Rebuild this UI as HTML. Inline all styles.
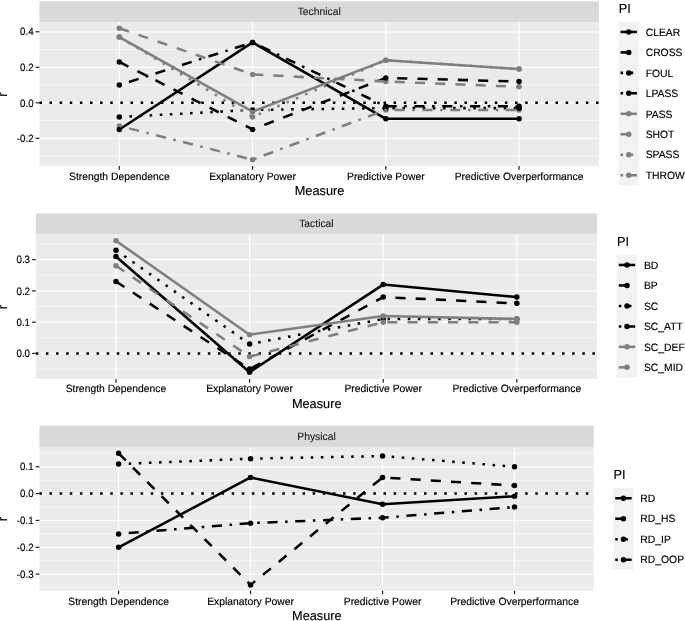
<!DOCTYPE html>
<html lang="en">
<head>
<meta charset="utf-8">
<title>Performance indicator measures</title>
<style>
html,body{margin:0;padding:0;background:#fff;}
svg{display:block;will-change:transform;text-rendering:geometricPrecision;}
text{stroke:#000;stroke-width:0.15px;}
</style>
</head>
<body>
<svg width="685" height="621" viewBox="0 0 685 621" font-family='"Liberation Sans", sans-serif'>
<rect x="0" y="0" width="685" height="621" fill="#ffffff"/>
<rect x="39.40" y="1.30" width="559.60" height="20.80" fill="#d9d9d9"/>
<text transform="translate(319.20,15.05) scale(0.9764,1)" font-size="10.60" text-anchor="middle" fill="#1a1a1a" style="stroke:#1a1a1a;stroke-width:0.1px">Technical</text>
<rect x="39.40" y="22.10" width="559.60" height="143.95" fill="#ebebeb"/>
<line x1="39.40" x2="599.00" y1="156.08" y2="156.08" stroke="#fff" stroke-width="0.63"/>
<line x1="39.40" x2="599.00" y1="120.56" y2="120.56" stroke="#fff" stroke-width="0.63"/>
<line x1="39.40" x2="599.00" y1="85.04" y2="85.04" stroke="#fff" stroke-width="0.63"/>
<line x1="39.40" x2="599.00" y1="49.52" y2="49.52" stroke="#fff" stroke-width="0.63"/>
<line x1="39.40" x2="599.00" y1="138.32" y2="138.32" stroke="#fff" stroke-width="1.25"/>
<line x1="39.40" x2="599.00" y1="102.80" y2="102.80" stroke="#fff" stroke-width="1.25"/>
<line x1="39.40" x2="599.00" y1="67.28" y2="67.28" stroke="#fff" stroke-width="1.25"/>
<line x1="39.40" x2="599.00" y1="31.76" y2="31.76" stroke="#fff" stroke-width="1.25"/>
<line x1="119.34" x2="119.34" y1="22.10" y2="166.05" stroke="#fff" stroke-width="1.25"/>
<line x1="252.58" x2="252.58" y1="22.10" y2="166.05" stroke="#fff" stroke-width="1.25"/>
<line x1="385.82" x2="385.82" y1="22.10" y2="166.05" stroke="#fff" stroke-width="1.25"/>
<line x1="519.06" x2="519.06" y1="22.10" y2="166.05" stroke="#fff" stroke-width="1.25"/>
<line x1="39.40" x2="599.00" y1="102.80" y2="102.80" stroke="#000" stroke-width="2.53" stroke-dasharray="2.53,7.59"/>
<circle cx="119.34" cy="37.09" r="2.75" fill="#7f7f7f"/>
<circle cx="252.58" cy="111.68" r="2.75" fill="#7f7f7f"/>
<circle cx="385.82" cy="60.18" r="2.75" fill="#7f7f7f"/>
<circle cx="519.06" cy="69.06" r="2.75" fill="#7f7f7f"/>
<circle cx="119.34" cy="28.21" r="2.75" fill="#7f7f7f"/>
<circle cx="252.58" cy="74.38" r="2.75" fill="#7f7f7f"/>
<circle cx="385.82" cy="81.49" r="2.75" fill="#7f7f7f"/>
<circle cx="519.06" cy="86.82" r="2.75" fill="#7f7f7f"/>
<circle cx="119.34" cy="37.09" r="2.75" fill="#7f7f7f"/>
<circle cx="252.58" cy="117.01" r="2.75" fill="#7f7f7f"/>
<circle cx="385.82" cy="60.18" r="2.75" fill="#7f7f7f"/>
<circle cx="519.06" cy="69.06" r="2.75" fill="#7f7f7f"/>
<circle cx="119.34" cy="125.89" r="2.75" fill="#7f7f7f"/>
<circle cx="252.58" cy="159.63" r="2.75" fill="#7f7f7f"/>
<circle cx="385.82" cy="109.90" r="2.75" fill="#7f7f7f"/>
<circle cx="519.06" cy="109.90" r="2.75" fill="#7f7f7f"/>
<circle cx="119.34" cy="129.44" r="2.75" fill="#000000"/>
<circle cx="252.58" cy="42.42" r="2.75" fill="#000000"/>
<circle cx="385.82" cy="118.78" r="2.75" fill="#000000"/>
<circle cx="519.06" cy="118.78" r="2.75" fill="#000000"/>
<circle cx="119.34" cy="61.95" r="2.75" fill="#000000"/>
<circle cx="252.58" cy="129.44" r="2.75" fill="#000000"/>
<circle cx="385.82" cy="77.94" r="2.75" fill="#000000"/>
<circle cx="519.06" cy="81.49" r="2.75" fill="#000000"/>
<circle cx="119.34" cy="117.01" r="2.75" fill="#000000"/>
<circle cx="252.58" cy="109.90" r="2.75" fill="#000000"/>
<circle cx="385.82" cy="108.13" r="2.75" fill="#000000"/>
<circle cx="519.06" cy="108.13" r="2.75" fill="#000000"/>
<circle cx="119.34" cy="85.04" r="2.75" fill="#000000"/>
<circle cx="252.58" cy="42.42" r="2.75" fill="#000000"/>
<circle cx="385.82" cy="106.35" r="2.75" fill="#000000"/>
<circle cx="519.06" cy="106.35" r="2.75" fill="#000000"/>
<polyline points="119.34,129.44 252.58,42.42 385.82,118.78 519.06,118.78" fill="none" stroke="#000000" stroke-width="2.53" stroke-linejoin="round"/>
<polyline points="119.34,61.95 252.58,129.44 385.82,77.94 519.06,81.49" fill="none" stroke="#000000" stroke-width="2.53" stroke-linejoin="round" stroke-dasharray="10.12,10.12"/>
<polyline points="119.34,117.01 252.58,109.90 385.82,108.13 519.06,108.13" fill="none" stroke="#000000" stroke-width="2.53" stroke-linejoin="round" stroke-dasharray="2.53,7.59"/>
<polyline points="119.34,85.04 252.58,42.42 385.82,106.35 519.06,106.35" fill="none" stroke="#000000" stroke-width="2.53" stroke-linejoin="round" stroke-dasharray="2.53,7.59,10.12,7.59"/>
<polyline points="119.34,37.09 252.58,111.68 385.82,60.18 519.06,69.06" fill="none" stroke="#7f7f7f" stroke-width="2.53" stroke-linejoin="round"/>
<polyline points="119.34,28.21 252.58,74.38 385.82,81.49 519.06,86.82" fill="none" stroke="#7f7f7f" stroke-width="2.53" stroke-linejoin="round" stroke-dasharray="10.12,10.12"/>
<polyline points="119.34,37.09 252.58,117.01 385.82,60.18 519.06,69.06" fill="none" stroke="#7f7f7f" stroke-width="2.53" stroke-linejoin="round" stroke-dasharray="2.53,7.59"/>
<polyline points="119.34,125.89 252.58,159.63 385.82,109.90 519.06,109.90" fill="none" stroke="#7f7f7f" stroke-width="2.53" stroke-linejoin="round" stroke-dasharray="2.53,7.59,10.12,7.59"/>
<line x1="35.70" x2="39.40" y1="138.32" y2="138.32" stroke="#262626" stroke-width="1.25"/>
<text transform="translate(33.60,142.02) scale(0.9178,1)" font-size="10.60" text-anchor="end" fill="#000">-0.2</text>
<line x1="35.70" x2="39.40" y1="102.80" y2="102.80" stroke="#262626" stroke-width="1.25"/>
<text transform="translate(33.60,106.50) scale(0.9178,1)" font-size="10.60" text-anchor="end" fill="#000">0.0</text>
<line x1="35.70" x2="39.40" y1="67.28" y2="67.28" stroke="#262626" stroke-width="1.25"/>
<text transform="translate(33.60,70.98) scale(0.9178,1)" font-size="10.60" text-anchor="end" fill="#000">0.2</text>
<line x1="35.70" x2="39.40" y1="31.76" y2="31.76" stroke="#262626" stroke-width="1.25"/>
<text transform="translate(33.60,35.46) scale(0.9178,1)" font-size="10.60" text-anchor="end" fill="#000">0.4</text>
<line x1="119.34" x2="119.34" y1="166.05" y2="169.75" stroke="#262626" stroke-width="1.25"/>
<text transform="translate(119.34,179.85) scale(0.9764,1)" font-size="10.60" text-anchor="middle" fill="#000">Strength Dependence</text>
<line x1="252.58" x2="252.58" y1="166.05" y2="169.75" stroke="#262626" stroke-width="1.25"/>
<text transform="translate(252.58,179.85) scale(0.9764,1)" font-size="10.60" text-anchor="middle" fill="#000">Explanatory Power</text>
<line x1="385.82" x2="385.82" y1="166.05" y2="169.75" stroke="#262626" stroke-width="1.25"/>
<text transform="translate(385.82,179.85) scale(0.9764,1)" font-size="10.60" text-anchor="middle" fill="#000">Predictive Power</text>
<line x1="519.06" x2="519.06" y1="166.05" y2="169.75" stroke="#262626" stroke-width="1.25"/>
<text transform="translate(519.06,179.85) scale(0.9764,1)" font-size="10.60" text-anchor="middle" fill="#000">Predictive Overperformance</text>
<text transform="translate(319.50,195.45) scale(0.9808,1)" font-size="13.00" text-anchor="middle" fill="#000">Measure</text>
<text transform="translate(6.90,94.48) rotate(-90)" font-size="13.30" text-anchor="middle" fill="#000">r</text>
<text transform="translate(618.70,12.60) scale(0.9808,1)" font-size="13.00" fill="#000">PI</text>
<rect x="618.50" y="21.70" width="20.47" height="20.52" fill="#f2f2f2"/>
<line x1="620.55" x2="636.92" y1="31.93" y2="31.93" stroke="#000000" stroke-width="2.53"/>
<circle cx="628.74" cy="31.93" r="2.75" fill="#000000"/>
<text transform="translate(645.67,35.63) scale(0.9764,1)" font-size="10.60" fill="#000">CLEAR</text>
<rect x="618.50" y="42.17" width="20.47" height="20.52" fill="#f2f2f2"/>
<line x1="620.55" x2="636.92" y1="52.41" y2="52.41" stroke="#000000" stroke-width="2.53" stroke-dasharray="10.12,10.12"/>
<circle cx="628.74" cy="52.41" r="2.75" fill="#000000"/>
<text transform="translate(645.67,56.11) scale(0.9764,1)" font-size="10.60" fill="#000">CROSS</text>
<rect x="618.50" y="62.64" width="20.47" height="20.52" fill="#f2f2f2"/>
<line x1="620.55" x2="636.92" y1="72.88" y2="72.88" stroke="#000000" stroke-width="2.53" stroke-dasharray="2.53,7.59"/>
<circle cx="628.74" cy="72.88" r="2.75" fill="#000000"/>
<text transform="translate(645.67,76.58) scale(0.9764,1)" font-size="10.60" fill="#000">FOUL</text>
<rect x="618.50" y="83.11" width="20.47" height="20.52" fill="#f2f2f2"/>
<line x1="620.55" x2="636.92" y1="93.34" y2="93.34" stroke="#000000" stroke-width="2.53" stroke-dasharray="2.53,7.59,10.12,7.59"/>
<circle cx="628.74" cy="93.34" r="2.75" fill="#000000"/>
<text transform="translate(645.67,97.05) scale(0.9764,1)" font-size="10.60" fill="#000">LPASS</text>
<rect x="618.50" y="103.58" width="20.47" height="20.52" fill="#f2f2f2"/>
<line x1="620.55" x2="636.92" y1="113.81" y2="113.81" stroke="#7f7f7f" stroke-width="2.53"/>
<circle cx="628.74" cy="113.81" r="2.75" fill="#7f7f7f"/>
<text transform="translate(645.67,117.52) scale(0.9764,1)" font-size="10.60" fill="#000">PASS</text>
<rect x="618.50" y="124.05" width="20.47" height="20.52" fill="#f2f2f2"/>
<line x1="620.55" x2="636.92" y1="134.28" y2="134.28" stroke="#7f7f7f" stroke-width="2.53" stroke-dasharray="10.12,10.12"/>
<circle cx="628.74" cy="134.28" r="2.75" fill="#7f7f7f"/>
<text transform="translate(645.67,137.98) scale(0.9764,1)" font-size="10.60" fill="#000">SHOT</text>
<rect x="618.50" y="144.52" width="20.47" height="20.52" fill="#f2f2f2"/>
<line x1="620.55" x2="636.92" y1="154.75" y2="154.75" stroke="#7f7f7f" stroke-width="2.53" stroke-dasharray="2.53,7.59"/>
<circle cx="628.74" cy="154.75" r="2.75" fill="#7f7f7f"/>
<text transform="translate(645.67,158.45) scale(0.9764,1)" font-size="10.60" fill="#000">SPASS</text>
<rect x="618.50" y="164.99" width="20.47" height="20.52" fill="#f2f2f2"/>
<line x1="620.55" x2="636.92" y1="175.22" y2="175.22" stroke="#7f7f7f" stroke-width="2.53" stroke-dasharray="2.53,7.59,10.12,7.59"/>
<circle cx="628.74" cy="175.22" r="2.75" fill="#7f7f7f"/>
<text transform="translate(645.67,178.92) scale(0.9764,1)" font-size="10.60" fill="#000">THROW</text>
<rect x="35.80" y="213.40" width="561.20" height="20.90" fill="#d9d9d9"/>
<text transform="translate(316.40,227.20) scale(0.9764,1)" font-size="10.60" text-anchor="middle" fill="#1a1a1a" style="stroke:#1a1a1a;stroke-width:0.1px">Tactical</text>
<rect x="35.80" y="234.30" width="561.20" height="144.70" fill="#ebebeb"/>
<line x1="35.80" x2="597.00" y1="369.10" y2="369.10" stroke="#fff" stroke-width="0.63"/>
<line x1="35.80" x2="597.00" y1="337.80" y2="337.80" stroke="#fff" stroke-width="0.63"/>
<line x1="35.80" x2="597.00" y1="306.50" y2="306.50" stroke="#fff" stroke-width="0.63"/>
<line x1="35.80" x2="597.00" y1="275.20" y2="275.20" stroke="#fff" stroke-width="0.63"/>
<line x1="35.80" x2="597.00" y1="243.90" y2="243.90" stroke="#fff" stroke-width="0.63"/>
<line x1="35.80" x2="597.00" y1="353.45" y2="353.45" stroke="#fff" stroke-width="1.25"/>
<line x1="35.80" x2="597.00" y1="322.15" y2="322.15" stroke="#fff" stroke-width="1.25"/>
<line x1="35.80" x2="597.00" y1="290.85" y2="290.85" stroke="#fff" stroke-width="1.25"/>
<line x1="35.80" x2="597.00" y1="259.55" y2="259.55" stroke="#fff" stroke-width="1.25"/>
<line x1="115.97" x2="115.97" y1="234.30" y2="379.00" stroke="#fff" stroke-width="1.25"/>
<line x1="249.59" x2="249.59" y1="234.30" y2="379.00" stroke="#fff" stroke-width="1.25"/>
<line x1="383.21" x2="383.21" y1="234.30" y2="379.00" stroke="#fff" stroke-width="1.25"/>
<line x1="516.83" x2="516.83" y1="234.30" y2="379.00" stroke="#fff" stroke-width="1.25"/>
<line x1="35.80" x2="597.00" y1="353.45" y2="353.45" stroke="#000" stroke-width="2.53" stroke-dasharray="2.53,7.59"/>
<circle cx="115.97" cy="256.42" r="2.75" fill="#000000"/>
<circle cx="249.59" cy="372.23" r="2.75" fill="#000000"/>
<circle cx="383.21" cy="284.59" r="2.75" fill="#000000"/>
<circle cx="516.83" cy="297.11" r="2.75" fill="#000000"/>
<circle cx="115.97" cy="281.46" r="2.75" fill="#000000"/>
<circle cx="249.59" cy="369.10" r="2.75" fill="#000000"/>
<circle cx="383.21" cy="297.11" r="2.75" fill="#000000"/>
<circle cx="516.83" cy="303.37" r="2.75" fill="#000000"/>
<circle cx="115.97" cy="250.16" r="2.75" fill="#000000"/>
<circle cx="249.59" cy="344.06" r="2.75" fill="#000000"/>
<circle cx="383.21" cy="319.02" r="2.75" fill="#000000"/>
<circle cx="516.83" cy="319.02" r="2.75" fill="#000000"/>
<circle cx="115.97" cy="240.77" r="2.75" fill="#7f7f7f"/>
<circle cx="249.59" cy="334.67" r="2.75" fill="#7f7f7f"/>
<circle cx="383.21" cy="315.89" r="2.75" fill="#7f7f7f"/>
<circle cx="516.83" cy="319.02" r="2.75" fill="#7f7f7f"/>
<circle cx="115.97" cy="265.81" r="2.75" fill="#7f7f7f"/>
<circle cx="249.59" cy="356.58" r="2.75" fill="#7f7f7f"/>
<circle cx="383.21" cy="322.15" r="2.75" fill="#7f7f7f"/>
<circle cx="516.83" cy="322.15" r="2.75" fill="#7f7f7f"/>
<polyline points="115.97,256.42 249.59,372.23 383.21,284.59 516.83,297.11" fill="none" stroke="#000000" stroke-width="2.53" stroke-linejoin="round"/>
<polyline points="115.97,281.46 249.59,369.10 383.21,297.11 516.83,303.37" fill="none" stroke="#000000" stroke-width="2.53" stroke-linejoin="round" stroke-dasharray="10.12,10.12"/>
<polyline points="115.97,250.16 249.59,344.06 383.21,319.02 516.83,319.02" fill="none" stroke="#000000" stroke-width="2.53" stroke-linejoin="round" stroke-dasharray="2.53,7.59"/>
<polyline points="115.97,240.77 249.59,334.67 383.21,315.89 516.83,319.02" fill="none" stroke="#7f7f7f" stroke-width="2.53" stroke-linejoin="round"/>
<polyline points="115.97,265.81 249.59,356.58 383.21,322.15 516.83,322.15" fill="none" stroke="#7f7f7f" stroke-width="2.53" stroke-linejoin="round" stroke-dasharray="10.12,10.12"/>
<line x1="32.10" x2="35.80" y1="353.45" y2="353.45" stroke="#262626" stroke-width="1.25"/>
<text transform="translate(30.00,357.15) scale(0.9178,1)" font-size="10.60" text-anchor="end" fill="#000">0.0</text>
<line x1="32.10" x2="35.80" y1="322.15" y2="322.15" stroke="#262626" stroke-width="1.25"/>
<text transform="translate(30.00,325.85) scale(0.9178,1)" font-size="10.60" text-anchor="end" fill="#000">0.1</text>
<line x1="32.10" x2="35.80" y1="290.85" y2="290.85" stroke="#262626" stroke-width="1.25"/>
<text transform="translate(30.00,294.55) scale(0.9178,1)" font-size="10.60" text-anchor="end" fill="#000">0.2</text>
<line x1="32.10" x2="35.80" y1="259.55" y2="259.55" stroke="#262626" stroke-width="1.25"/>
<text transform="translate(30.00,263.25) scale(0.9178,1)" font-size="10.60" text-anchor="end" fill="#000">0.3</text>
<line x1="115.97" x2="115.97" y1="379.00" y2="382.70" stroke="#262626" stroke-width="1.25"/>
<text transform="translate(115.97,392.00) scale(0.9764,1)" font-size="10.60" text-anchor="middle" fill="#000">Strength Dependence</text>
<line x1="249.59" x2="249.59" y1="379.00" y2="382.70" stroke="#262626" stroke-width="1.25"/>
<text transform="translate(249.59,392.00) scale(0.9764,1)" font-size="10.60" text-anchor="middle" fill="#000">Explanatory Power</text>
<line x1="383.21" x2="383.21" y1="379.00" y2="382.70" stroke="#262626" stroke-width="1.25"/>
<text transform="translate(383.21,392.00) scale(0.9764,1)" font-size="10.60" text-anchor="middle" fill="#000">Predictive Power</text>
<line x1="516.83" x2="516.83" y1="379.00" y2="382.70" stroke="#262626" stroke-width="1.25"/>
<text transform="translate(516.83,392.00) scale(0.9764,1)" font-size="10.60" text-anchor="middle" fill="#000">Predictive Overperformance</text>
<text transform="translate(316.70,408.10) scale(0.9808,1)" font-size="13.00" text-anchor="middle" fill="#000">Measure</text>
<text transform="translate(6.90,307.05) rotate(-90)" font-size="13.30" text-anchor="middle" fill="#000">r</text>
<text transform="translate(616.95,245.70) scale(0.9808,1)" font-size="13.00" fill="#000">PI</text>
<rect x="616.75" y="254.75" width="20.47" height="20.52" fill="#f2f2f2"/>
<line x1="618.80" x2="635.17" y1="264.99" y2="264.99" stroke="#000000" stroke-width="2.53"/>
<circle cx="626.99" cy="264.99" r="2.75" fill="#000000"/>
<text transform="translate(643.92,268.69) scale(0.9764,1)" font-size="10.60" fill="#000">BD</text>
<rect x="616.75" y="275.22" width="20.47" height="20.52" fill="#f2f2f2"/>
<line x1="618.80" x2="635.17" y1="285.46" y2="285.46" stroke="#000000" stroke-width="2.53" stroke-dasharray="10.12,10.12"/>
<circle cx="626.99" cy="285.46" r="2.75" fill="#000000"/>
<text transform="translate(643.92,289.16) scale(0.9764,1)" font-size="10.60" fill="#000">BP</text>
<rect x="616.75" y="295.69" width="20.47" height="20.52" fill="#f2f2f2"/>
<line x1="618.80" x2="635.17" y1="305.93" y2="305.93" stroke="#000000" stroke-width="2.53" stroke-dasharray="2.53,7.59"/>
<circle cx="626.99" cy="305.93" r="2.75" fill="#000000"/>
<text transform="translate(643.92,309.62) scale(0.9764,1)" font-size="10.60" fill="#000">SC</text>
<rect x="616.75" y="316.16" width="20.47" height="20.52" fill="#f2f2f2"/>
<line x1="618.80" x2="635.17" y1="326.39" y2="326.39" stroke="#000000" stroke-width="2.53" stroke-dasharray="2.53,7.59,10.12,7.59"/>
<circle cx="626.99" cy="326.39" r="2.75" fill="#000000"/>
<text transform="translate(643.92,330.09) scale(0.9764,1)" font-size="10.60" fill="#000">SC_ATT</text>
<rect x="616.75" y="336.63" width="20.47" height="20.52" fill="#f2f2f2"/>
<line x1="618.80" x2="635.17" y1="346.87" y2="346.87" stroke="#7f7f7f" stroke-width="2.53"/>
<circle cx="626.99" cy="346.87" r="2.75" fill="#7f7f7f"/>
<text transform="translate(643.92,350.56) scale(0.9764,1)" font-size="10.60" fill="#000">SC_DEF</text>
<rect x="616.75" y="357.10" width="20.47" height="20.52" fill="#f2f2f2"/>
<line x1="618.80" x2="635.17" y1="367.34" y2="367.34" stroke="#7f7f7f" stroke-width="2.53" stroke-dasharray="10.12,10.12"/>
<circle cx="626.99" cy="367.34" r="2.75" fill="#7f7f7f"/>
<text transform="translate(643.92,371.04) scale(0.9764,1)" font-size="10.60" fill="#000">SC_MID</text>
<rect x="39.40" y="425.60" width="554.30" height="21.30" fill="#d9d9d9"/>
<text transform="translate(316.55,439.60) scale(0.9764,1)" font-size="10.60" text-anchor="middle" fill="#1a1a1a" style="stroke:#1a1a1a;stroke-width:0.1px">Physical</text>
<rect x="39.40" y="446.90" width="554.30" height="143.70" fill="#ebebeb"/>
<line x1="39.40" x2="593.70" y1="587.58" y2="587.58" stroke="#fff" stroke-width="0.63"/>
<line x1="39.40" x2="593.70" y1="560.73" y2="560.73" stroke="#fff" stroke-width="0.63"/>
<line x1="39.40" x2="593.70" y1="533.88" y2="533.88" stroke="#fff" stroke-width="0.63"/>
<line x1="39.40" x2="593.70" y1="507.03" y2="507.03" stroke="#fff" stroke-width="0.63"/>
<line x1="39.40" x2="593.70" y1="480.18" y2="480.18" stroke="#fff" stroke-width="0.63"/>
<line x1="39.40" x2="593.70" y1="453.33" y2="453.33" stroke="#fff" stroke-width="0.63"/>
<line x1="39.40" x2="593.70" y1="574.15" y2="574.15" stroke="#fff" stroke-width="1.25"/>
<line x1="39.40" x2="593.70" y1="547.30" y2="547.30" stroke="#fff" stroke-width="1.25"/>
<line x1="39.40" x2="593.70" y1="520.45" y2="520.45" stroke="#fff" stroke-width="1.25"/>
<line x1="39.40" x2="593.70" y1="493.60" y2="493.60" stroke="#fff" stroke-width="1.25"/>
<line x1="39.40" x2="593.70" y1="466.75" y2="466.75" stroke="#fff" stroke-width="1.25"/>
<line x1="118.59" x2="118.59" y1="446.90" y2="590.60" stroke="#fff" stroke-width="1.25"/>
<line x1="250.56" x2="250.56" y1="446.90" y2="590.60" stroke="#fff" stroke-width="1.25"/>
<line x1="382.54" x2="382.54" y1="446.90" y2="590.60" stroke="#fff" stroke-width="1.25"/>
<line x1="514.51" x2="514.51" y1="446.90" y2="590.60" stroke="#fff" stroke-width="1.25"/>
<line x1="39.40" x2="593.70" y1="493.60" y2="493.60" stroke="#000" stroke-width="2.53" stroke-dasharray="2.53,7.59"/>
<circle cx="118.59" cy="547.30" r="2.75" fill="#000000"/>
<circle cx="250.56" cy="477.49" r="2.75" fill="#000000"/>
<circle cx="382.54" cy="504.34" r="2.75" fill="#000000"/>
<circle cx="514.51" cy="496.29" r="2.75" fill="#000000"/>
<circle cx="118.59" cy="453.33" r="2.75" fill="#000000"/>
<circle cx="250.56" cy="584.89" r="2.75" fill="#000000"/>
<circle cx="382.54" cy="477.49" r="2.75" fill="#000000"/>
<circle cx="514.51" cy="485.55" r="2.75" fill="#000000"/>
<circle cx="118.59" cy="464.06" r="2.75" fill="#000000"/>
<circle cx="250.56" cy="458.70" r="2.75" fill="#000000"/>
<circle cx="382.54" cy="456.01" r="2.75" fill="#000000"/>
<circle cx="514.51" cy="466.75" r="2.75" fill="#000000"/>
<circle cx="118.59" cy="533.88" r="2.75" fill="#000000"/>
<circle cx="250.56" cy="523.13" r="2.75" fill="#000000"/>
<circle cx="382.54" cy="517.76" r="2.75" fill="#000000"/>
<circle cx="514.51" cy="507.03" r="2.75" fill="#000000"/>
<polyline points="118.59,547.30 250.56,477.49 382.54,504.34 514.51,496.29" fill="none" stroke="#000000" stroke-width="2.53" stroke-linejoin="round"/>
<polyline points="118.59,453.33 250.56,584.89 382.54,477.49 514.51,485.55" fill="none" stroke="#000000" stroke-width="2.53" stroke-linejoin="round" stroke-dasharray="10.12,10.12"/>
<polyline points="118.59,464.06 250.56,458.70 382.54,456.01 514.51,466.75" fill="none" stroke="#000000" stroke-width="2.53" stroke-linejoin="round" stroke-dasharray="2.53,7.59"/>
<polyline points="118.59,533.88 250.56,523.13 382.54,517.76 514.51,507.03" fill="none" stroke="#000000" stroke-width="2.53" stroke-linejoin="round" stroke-dasharray="2.53,7.59,10.12,7.59"/>
<line x1="35.70" x2="39.40" y1="574.15" y2="574.15" stroke="#262626" stroke-width="1.25"/>
<text transform="translate(33.60,577.85) scale(0.9178,1)" font-size="10.60" text-anchor="end" fill="#000">-0.3</text>
<line x1="35.70" x2="39.40" y1="547.30" y2="547.30" stroke="#262626" stroke-width="1.25"/>
<text transform="translate(33.60,551.00) scale(0.9178,1)" font-size="10.60" text-anchor="end" fill="#000">-0.2</text>
<line x1="35.70" x2="39.40" y1="520.45" y2="520.45" stroke="#262626" stroke-width="1.25"/>
<text transform="translate(33.60,524.15) scale(0.9178,1)" font-size="10.60" text-anchor="end" fill="#000">-0.1</text>
<line x1="35.70" x2="39.40" y1="493.60" y2="493.60" stroke="#262626" stroke-width="1.25"/>
<text transform="translate(33.60,497.30) scale(0.9178,1)" font-size="10.60" text-anchor="end" fill="#000">0.0</text>
<line x1="35.70" x2="39.40" y1="466.75" y2="466.75" stroke="#262626" stroke-width="1.25"/>
<text transform="translate(33.60,470.45) scale(0.9178,1)" font-size="10.60" text-anchor="end" fill="#000">0.1</text>
<line x1="118.59" x2="118.59" y1="590.60" y2="594.30" stroke="#262626" stroke-width="1.25"/>
<text transform="translate(118.59,605.10) scale(0.9764,1)" font-size="10.60" text-anchor="middle" fill="#000">Strength Dependence</text>
<line x1="250.56" x2="250.56" y1="590.60" y2="594.30" stroke="#262626" stroke-width="1.25"/>
<text transform="translate(250.56,605.10) scale(0.9764,1)" font-size="10.60" text-anchor="middle" fill="#000">Explanatory Power</text>
<line x1="382.54" x2="382.54" y1="590.60" y2="594.30" stroke="#262626" stroke-width="1.25"/>
<text transform="translate(382.54,605.10) scale(0.9764,1)" font-size="10.60" text-anchor="middle" fill="#000">Predictive Power</text>
<line x1="514.51" x2="514.51" y1="590.60" y2="594.30" stroke="#262626" stroke-width="1.25"/>
<text transform="translate(514.51,605.10) scale(0.9764,1)" font-size="10.60" text-anchor="middle" fill="#000">Predictive Overperformance</text>
<text transform="translate(316.85,619.60) scale(0.9808,1)" font-size="13.00" text-anchor="middle" fill="#000">Measure</text>
<text transform="translate(6.90,519.15) rotate(-90)" font-size="13.30" text-anchor="middle" fill="#000">r</text>
<text transform="translate(613.40,479.00) scale(0.9808,1)" font-size="13.00" fill="#000">PI</text>
<rect x="613.20" y="488.00" width="20.47" height="20.52" fill="#f2f2f2"/>
<line x1="615.25" x2="631.62" y1="498.24" y2="498.24" stroke="#000000" stroke-width="2.53"/>
<circle cx="623.44" cy="498.24" r="2.75" fill="#000000"/>
<text transform="translate(640.37,501.94) scale(0.9764,1)" font-size="10.60" fill="#000">RD</text>
<rect x="613.20" y="508.47" width="20.47" height="20.52" fill="#f2f2f2"/>
<line x1="615.25" x2="631.62" y1="518.71" y2="518.71" stroke="#000000" stroke-width="2.53" stroke-dasharray="10.12,10.12"/>
<circle cx="623.44" cy="518.71" r="2.75" fill="#000000"/>
<text transform="translate(640.37,522.41) scale(0.9764,1)" font-size="10.60" fill="#000">RD_HS</text>
<rect x="613.20" y="528.94" width="20.47" height="20.52" fill="#f2f2f2"/>
<line x1="615.25" x2="631.62" y1="539.18" y2="539.18" stroke="#000000" stroke-width="2.53" stroke-dasharray="2.53,7.59"/>
<circle cx="623.44" cy="539.18" r="2.75" fill="#000000"/>
<text transform="translate(640.37,542.88) scale(0.9764,1)" font-size="10.60" fill="#000">RD_IP</text>
<rect x="613.20" y="549.41" width="20.47" height="20.52" fill="#f2f2f2"/>
<line x1="615.25" x2="631.62" y1="559.64" y2="559.64" stroke="#000000" stroke-width="2.53" stroke-dasharray="2.53,7.59,10.12,7.59"/>
<circle cx="623.44" cy="559.64" r="2.75" fill="#000000"/>
<text transform="translate(640.37,563.35) scale(0.9764,1)" font-size="10.60" fill="#000">RD_OOP</text>
</svg>
</body>
</html>
